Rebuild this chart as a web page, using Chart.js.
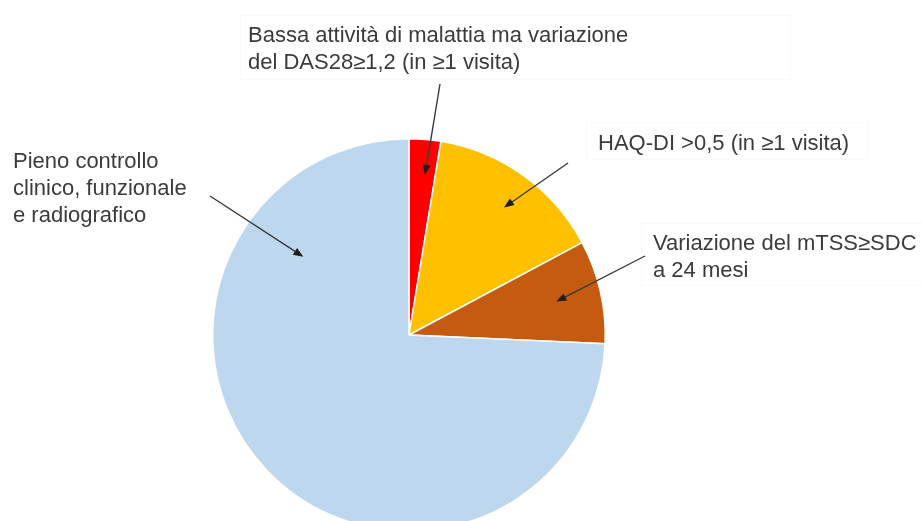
<!DOCTYPE html>
<html>
<head>
<meta charset="utf-8">
<script src="https://cdn.jsdelivr.net/npm/chart.js"></script>
<style>
  html, body { margin: 0; padding: 0; background: #fff; overflow: hidden; }
  #pie { display: block; }
</style>
</head>
<body>
<canvas id="pie" width="922" height="560"></canvas>
<script>
// categories in clockwise order from 12 o'clock
const categories = [
  'Bassa attività di malattia ma variazione del DAS28≥1,2 (in ≥1 visita)',
  'HAQ-DI >0,5 (in ≥1 visita)',
  'Variazione del mTSS≥SDC a 24 mesi',
  'Pieno controllo clinico, funzionale e radiografico'
];
const shares = [2.6, 14.6, 8.5, 74.3];
const sliceColors = ['#FF0000', '#FFC000', '#C55A11', '#BDD7EE'];

// callout text for each slice
const calloutLines = [
  ['Bassa attività di malattia ma variazione', 'del DAS28≥1,2 (in ≥1 visita)'],
  ['HAQ-DI >0,5 (in ≥1 visita)'],
  ['Variazione del mTSS≥SDC', 'a 24 mesi'],
  ['Pieno controllo', 'clinico, funzionale', 'e radiografico']
];

// where each callout sits, its faint frame, and where its arrow starts / lands inside the slice
const callouts = [
  { x: 248, y: 42, frame: [240, 15, 550, 64], tail: [440, 84], along: 0.61, depth: 0.82 },
  { x: 598, y: 150, frame: [586, 122, 281, 37], tail: [568, 163], along: 0.52, depth: 0.81 },
  { x: 653, y: 250, frame: [641, 223, 281, 62], tail: [645, 256], along: 0.50, depth: 0.77 },
  { x: 13, y: 168, frame: null, tail: [210, 196], along: 0.80, depth: 0.67 }
];
const lineHeight = 27;

const calloutPlugin = {
  id: 'callouts',
  afterDraw(chart) {
    const ctx = chart.ctx;
    const arcs = chart.getDatasetMeta(0).data;
    ctx.save();
    callouts.forEach((c, i) => {
      if (c.frame) {
        ctx.strokeStyle = 'rgba(0,0,0,0.04)';
        ctx.lineWidth = 1;
        ctx.setLineDash([2, 2]);
        ctx.strokeRect(c.frame[0] + 0.5, c.frame[1] + 0.5, c.frame[2], c.frame[3]);
        ctx.setLineDash([]);
      }

      ctx.font = '22px "Liberation Sans", Arial, sans-serif';
      ctx.fillStyle = '#3b3b3b';
      calloutLines[i].forEach((line, k) => {
        ctx.fillText(line, c.x, c.y + k * lineHeight);
      });

      // arrow from the text into its slice
      const arc = arcs[i];
      const a = arc.startAngle + c.along * (arc.endAngle - arc.startAngle);
      const hx = arc.x + Math.cos(a) * arc.outerRadius * c.depth;
      const hy = arc.y + Math.sin(a) * arc.outerRadius * c.depth;
      const [tx, ty] = c.tail;
      const ang = Math.atan2(hy - ty, hx - tx);
      const headLen = 10, headW = 4;
      ctx.strokeStyle = '#3a3a3a';
      ctx.lineWidth = 1.4;
      ctx.beginPath();
      ctx.moveTo(tx, ty);
      ctx.lineTo(hx - Math.cos(ang) * headLen * 0.8, hy - Math.sin(ang) * headLen * 0.8);
      ctx.stroke();
      ctx.fillStyle = '#1e1e1e';
      ctx.beginPath();
      ctx.moveTo(hx, hy);
      ctx.lineTo(hx - Math.cos(ang) * headLen - Math.sin(ang) * headW,
                 hy - Math.sin(ang) * headLen + Math.cos(ang) * headW);
      ctx.lineTo(hx - Math.cos(ang) * headLen + Math.sin(ang) * headW,
                 hy - Math.sin(ang) * headLen - Math.cos(ang) * headW);
      ctx.closePath();
      ctx.fill();
    });
    ctx.restore();
  }
};

new Chart(document.getElementById('pie').getContext('2d'), {
  type: 'pie',
  data: {
    labels: categories,
    datasets: [{
      data: shares,
      backgroundColor: sliceColors,
      borderColor: '#ffffff',
      borderWidth: 1.5
    }]
  },
  options: {
    responsive: false,
    animation: false,
    layout: { padding: { left: 212, right: 316, top: 138, bottom: 28 } },
    plugins: {
      legend: { display: false },
      tooltip: { enabled: false }
    }
  },
  plugins: [calloutPlugin]
});
</script>
</body>
</html>
